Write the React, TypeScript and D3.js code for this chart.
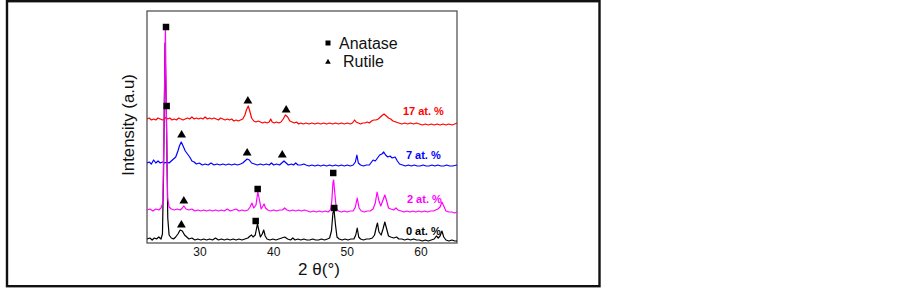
import React from 'react';
import * as d3 from 'd3';

// XRD patterns, intensity in arbitrary units (stacked with offsets as in the figure)
const xTicks = [30, 40, 50, 60];

const pattern0 = [
  [22.8, 4], [23.2, 5], [23.5, 3], [23.8, 5], [24.1, 4], [24.4, 6], [24.7, 4], [24.9, 9], [25.05, 70], [25.25, 200],
  [25.45, 120], [25.62, 25], [25.8, 8], [26.1, 5], [26.4, 4], [26.7, 6], [27.0, 9], [27.3, 13], [27.6, 12], [27.9, 8],
  [28.2, 6], [28.5, 4], [28.9, 5], [29.3, 3], [29.7, 4], [30.1, 3], [30.5, 4], [30.9, 3], [31.3, 4], [31.7, 3],
  [32.1, 5], [32.5, 3], [32.9, 4], [33.3, 3], [33.7, 4], [34.1, 3], [34.5, 4], [34.9, 3], [35.3, 4], [35.7, 3],
  [36.1, 4], [36.5, 5], [36.8, 7], [37.0, 8], [37.2, 6], [37.5, 8], [37.8, 19], [37.95, 14], [38.2, 6], [38.45, 9],
  [38.65, 13], [38.85, 7], [39.1, 4], [39.5, 3], [39.9, 4], [40.3, 3], [40.7, 4], [41.1, 5], [41.5, 6], [41.9, 4],
  [42.3, 3], [42.6, 5], [42.9, 3], [43.3, 4], [43.7, 3], [44.1, 4], [44.5, 3], [44.9, 3], [45.3, 4], [45.7, 3],
  [46.1, 3], [46.5, 4], [46.9, 3], [47.3, 4], [47.6, 5], [47.85, 12], [48.05, 30], [48.2, 33], [48.4, 18], [48.6, 6],
  [48.9, 4], [49.3, 3], [49.7, 4], [50.1, 3], [50.5, 4], [50.9, 4], [51.15, 8], [51.35, 15], [51.55, 6], [51.8, 4],
  [52.2, 3], [52.6, 4], [53.0, 4], [53.4, 5], [53.7, 8], [53.95, 16], [54.1, 20], [54.3, 11], [54.6, 8], [54.85, 14],
  [55.1, 21], [55.35, 14], [55.6, 7], [55.9, 6], [56.3, 5], [56.7, 6], [57.0, 4], [57.4, 4], [57.8, 3], [58.2, 4],
  [58.6, 3], [59.0, 4], [59.4, 3], [59.8, 3], [60.2, 2], [60.6, 3], [61.0, 2], [61.4, 3], [61.8, 4], [62.1, 7],
  [62.35, 5], [62.6, 7], [62.85, 12], [63.1, 6], [63.4, 3], [63.8, 2], [64.2, 3], [64.6, 2], [64.9, 2],
];

const pattern2 = [
  [22.8, 33], [23.2, 34], [23.6, 32], [24.0, 34], [24.4, 33], [24.7, 35], [24.95, 40], [25.1, 110], [25.3, 215], [25.45, 120],
  [25.6, 45], [25.8, 36], [26.1, 34], [26.5, 33], [26.9, 34], [27.3, 33], [27.6, 35], [27.8, 37], [28.1, 34], [28.5, 33],
  [28.9, 34], [29.3, 32], [29.7, 33], [30.1, 32], [30.5, 33], [30.9, 32], [31.3, 33], [31.7, 32], [32.1, 33], [32.5, 32],
  [32.9, 33], [33.3, 32], [33.7, 34], [34.1, 32], [34.5, 33], [34.9, 34], [35.3, 32], [35.7, 33], [36.1, 32], [36.5, 33],
  [36.8, 36], [37.05, 40], [37.3, 35], [37.6, 38], [37.85, 51], [38.05, 44], [38.3, 34], [38.55, 37], [38.7, 39], [38.9, 35],
  [39.2, 33], [39.6, 32], [40.0, 33], [40.4, 32], [40.8, 33], [41.2, 33], [41.5, 35], [41.8, 33], [42.2, 32], [42.6, 33],
  [43.0, 32], [43.4, 33], [43.8, 32], [44.2, 33], [44.6, 32], [45.0, 31], [45.4, 32], [45.8, 31], [46.2, 32], [46.6, 31],
  [47.0, 32], [47.4, 31], [47.7, 33], [47.9, 42], [48.05, 60], [48.15, 63], [48.3, 50], [48.5, 35], [48.8, 32], [49.2, 31],
  [49.6, 32], [50.0, 31], [50.4, 32], [50.8, 32], [51.1, 36], [51.35, 45], [51.6, 35], [51.9, 32], [52.3, 31], [52.7, 32],
  [53.1, 32], [53.5, 34], [53.8, 40], [54.05, 51], [54.3, 42], [54.55, 37], [54.8, 42], [55.1, 48], [55.35, 42], [55.6, 35],
  [55.9, 34], [56.3, 33], [56.6, 35], [56.9, 33], [57.3, 32], [57.7, 31], [58.1, 32], [58.5, 31], [58.9, 32], [59.3, 31],
  [59.7, 32], [60.1, 31], [60.5, 32], [60.9, 31], [61.3, 32], [61.7, 32], [62.0, 33], [62.3, 34], [62.6, 36], [62.85, 41],
  [63.1, 37], [63.4, 32], [63.8, 31], [64.2, 31], [64.6, 30], [64.9, 31],
];

const pattern7 = [
  [22.8, 80], [23.1, 81], [23.4, 79], [23.7, 83], [24.0, 80], [24.3, 82], [24.6, 80], [24.9, 81], [25.2, 80], [25.5, 81],
  [25.8, 80], [26.1, 82], [26.4, 84], [26.7, 86], [27.0, 92], [27.2, 97], [27.45, 101], [27.7, 97], [28.0, 92], [28.3, 89],
  [28.6, 86], [28.9, 82], [29.2, 81], [29.5, 79], [29.9, 80], [30.3, 78], [30.7, 79], [31.1, 78], [31.5, 80], [31.9, 78],
  [32.3, 79], [32.7, 78], [33.1, 79], [33.5, 78], [33.9, 79], [34.3, 78], [34.7, 79], [35.1, 78], [35.5, 79], [35.8, 80],
  [36.1, 82], [36.4, 84], [36.7, 83], [37.0, 80], [37.4, 79], [37.8, 78], [38.2, 79], [38.6, 78], [39.0, 79], [39.4, 78],
  [39.7, 80], [40.0, 78], [40.4, 79], [40.8, 78], [41.1, 80], [41.4, 82], [41.7, 80], [42.0, 78], [42.4, 79], [42.7, 78],
  [43.0, 80], [43.3, 78], [43.7, 78], [44.1, 79], [44.4, 78], [44.8, 77], [45.2, 78], [45.6, 77], [46.0, 78], [46.4, 77],
  [46.8, 78], [47.2, 77], [47.6, 78], [48.0, 77], [48.4, 78], [48.8, 77], [49.2, 78], [49.6, 77], [50.0, 78], [50.4, 77],
  [50.8, 78], [51.1, 81], [51.3, 88], [51.5, 80], [51.8, 78], [52.2, 77], [52.6, 78], [53.0, 78], [53.3, 81], [53.5, 83],
  [53.8, 82], [54.1, 85], [54.4, 88], [54.7, 89], [54.95, 91], [55.2, 88], [55.5, 86], [55.8, 87], [56.1, 85], [56.5, 86],
  [56.8, 82], [57.1, 79], [57.5, 78], [57.9, 77], [58.3, 78], [58.7, 77], [59.1, 78], [59.5, 77], [59.9, 77], [60.3, 78],
  [60.7, 77], [61.1, 77], [61.5, 78], [61.9, 77], [62.3, 78], [62.7, 77], [63.1, 77], [63.5, 78], [63.9, 77], [64.3, 77],
  [64.9, 78],
];

const pattern17 = [
  [22.8, 124], [23.1, 125], [23.4, 123], [23.7, 124], [24.0, 123], [24.3, 125], [24.6, 124], [24.9, 123], [25.2, 124], [25.4, 126],
  [25.6, 124], [25.9, 125], [26.2, 123], [26.5, 124], [26.8, 123], [27.1, 125], [27.4, 124], [27.7, 123], [28.0, 124], [28.3, 125],
  [28.6, 124], [28.9, 126], [29.2, 124], [29.5, 125], [29.8, 124], [30.1, 125], [30.4, 124], [30.7, 126], [31.0, 124], [31.3, 125],
  [31.6, 124], [31.9, 125], [32.2, 124], [32.5, 123], [32.8, 125], [33.1, 124], [33.4, 123], [33.7, 124], [34.0, 123], [34.3, 124],
  [34.6, 122], [34.9, 123], [35.2, 122], [35.5, 123], [35.8, 124], [36.1, 128], [36.3, 133], [36.55, 137], [36.8, 131], [37.0, 125],
  [37.3, 122], [37.6, 121], [37.9, 122], [38.2, 121], [38.5, 120], [38.8, 121], [39.1, 120], [39.4, 121], [39.6, 124], [39.8, 121],
  [40.1, 120], [40.4, 121], [40.7, 120], [41.0, 121], [41.3, 124], [41.6, 128], [41.9, 126], [42.2, 122], [42.5, 121], [42.8, 120],
  [43.1, 121], [43.4, 119], [43.7, 120], [44.0, 119], [44.4, 120], [44.8, 119], [45.2, 120], [45.6, 119], [46.0, 120], [46.4, 119],
  [46.8, 120], [47.2, 119], [47.6, 120], [48.0, 119], [48.4, 120], [48.8, 119], [49.2, 120], [49.6, 119], [50.0, 120], [50.4, 119],
  [50.7, 120], [51.0, 123], [51.2, 121], [51.5, 120], [51.8, 119], [52.1, 120], [52.4, 120], [52.7, 121], [53.0, 120], [53.3, 122],
  [53.6, 123], [53.9, 123], [54.2, 124], [54.5, 126], [54.8, 128], [55.0, 129], [55.3, 127], [55.6, 125], [55.9, 124], [56.2, 122],
  [56.6, 121], [57.0, 120], [57.4, 119], [57.8, 120], [58.2, 119], [58.6, 120], [59.0, 119], [59.4, 120], [59.8, 119], [60.2, 118],
  [60.6, 119], [61.0, 118], [61.4, 119], [61.8, 118], [62.2, 119], [62.6, 118], [63.0, 119], [63.4, 118], [63.8, 119], [64.2, 118],
  [64.6, 119], [64.9, 120],
];

// phase markers [2theta, intensity]
const anataseMarks = [[25.38, 216], [25.47, 137], [48.09, 70], [48.23, 35], [37.83, 54], [37.56, 22]];
const rutileMarks = [[36.5, 142], [41.7, 133], [27.5, 108], [36.4, 90], [41.17, 88], [27.8, 42], [27.47, 18]];

const seriesNames = ['0 at. %', '7 at. %', '17 at. %', '2 at. %'];
const seriesColors = ['#000000', '#0000ff', '#ff0000', '#ff00ff'];
const seriesData = [pattern0, pattern7, pattern17, pattern2];
const labelAnchors = [[57.96, 12.5], [57.96, 88.5], [57.55, 132.5], [58.1, 44.5]]; // where the sample labels sit

const W = 903;
const H = 289;
const margin = { top: 11, right: 446, bottom: 46, left: 147 };
const iw = W - margin.left - margin.right;
const ih = H - margin.top - margin.bottom;

export default function App() {
  const x = d3.scaleLinear().domain([22.8, 64.9]).range([0, iw]);
  const y = d3.scaleLinear().domain([0, 232]).range([ih, 0]);
  const line = d3.line<number[]>().x(d => x(d[0])).y(d => y(d[1]));
  const sq = d3.symbol().type(d3.symbolSquare).size(42)();
  const tri = d3.symbol().type(d3.symbolTriangle).size(34)();

  return (
    <svg width={W} height={H} style={{ position: 'absolute', left: 0, top: 0 }} fontFamily="'Liberation Sans', Arial, sans-serif">
      <rect x={0} y={0} width={W} height={H} fill="#fff" />
      <rect x={7} y={1.2} width={592.5} height={285} fill="none" stroke="#111" strokeWidth={2.4} />
      <g transform={`translate(${margin.left},${margin.top})`}>
        <rect x={0} y={0} width={iw} height={ih} fill="none" stroke="#555" strokeWidth={1.3} />
        {seriesData.map((d, i) => (
          <path key={i} d={line(d) || ''} fill="none" stroke={seriesColors[i]} strokeWidth={1.2} strokeLinejoin="round" />
        ))}
        {anataseMarks.map((m, i) => (
          <path key={'a' + i} d={sq || ''} transform={`translate(${x(m[0])},${y(m[1])})`} fill="#000" />
        ))}
        {rutileMarks.map((m, i) => (
          <path key={'r' + i} d={tri || ''} transform={`translate(${x(m[0])},${y(m[1])})`} fill="#000" />
        ))}
        {seriesNames.map((n, i) => (
          <text key={n} x={x(labelAnchors[i][0])} y={y(labelAnchors[i][1]) + 4} fontSize={11} fontWeight="bold" fill={seriesColors[i]}>
            {n}
          </text>
        ))}
        {xTicks.map(t => (
          <text key={t} x={x(t)} y={ih + 13} fontSize={12} textAnchor="middle" fill="#111">
            {t}
          </text>
        ))}
        {/* legend */}
        <rect x={178.5} y={29.5} width={5} height={5} fill="#000" />
        <text x={192} y={37.5} fontSize={16} fill="#111">Anatase</text>
        <path d={d3.symbol().type(d3.symbolTriangle).size(14)() || ''} transform={`translate(181,51)`} fill="#000" />
        <text x={196} y={55.5} fontSize={16} fill="#111">Rutile</text>
        <text x={iw / 2 + 17} y={ih + 32} fontSize={17} textAnchor="middle" fill="#111">2 θ(°)</text>
      </g>
      <text transform={`translate(134,${margin.top + 114}) rotate(-90)`} fontSize={16.8} textAnchor="middle" fill="#111">
        Intensity (a.u)
      </text>
    </svg>
  );
}
